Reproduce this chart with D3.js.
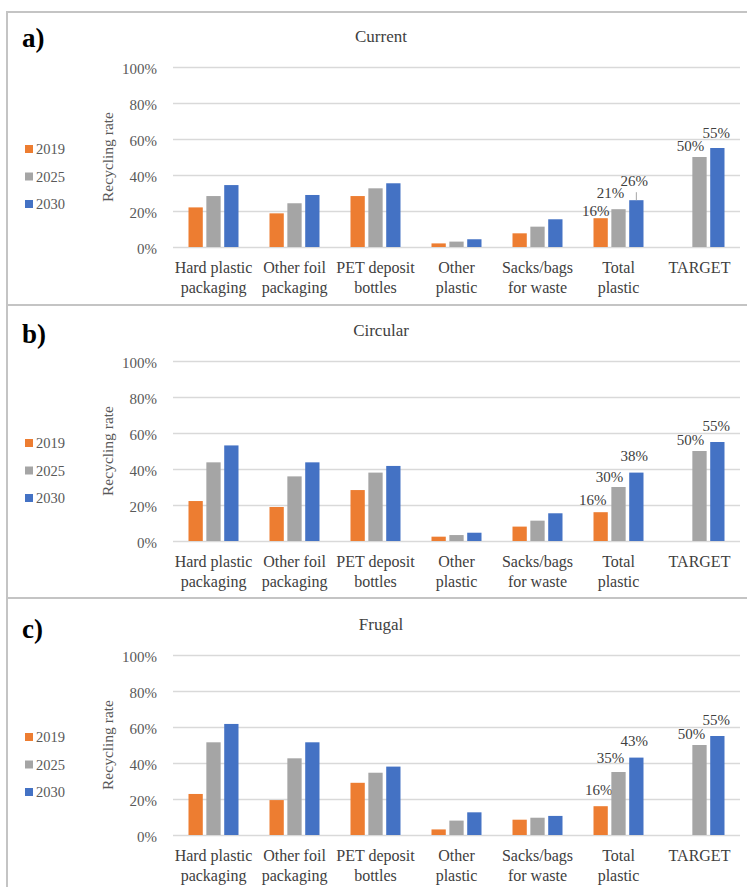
<!DOCTYPE html>
<html>
<head>
<meta charset="utf-8">
<script src="https://cdn.jsdelivr.net/npm/d3@7"></script>
<style>
  html, body { margin: 0; padding: 0; background: #fff; }
  svg { display: block; }
</style>
</head>
<body>
<svg id="chart" width="747" height="887"></svg>
<script>
// ---------------- data ----------------
const categories = ["Hard plastic|packaging", "Other foil|packaging", "PET deposit|bottles",
                    "Other|plastic", "Sacks/bags|for waste", "Total|plastic", "TARGET"];
const seriesNames = ["2019", "2025", "2030"];
const panelLetters = ["a)", "b)", "c)"];
const panelTitles = ["Current", "Circular", "Frugal"];
const yTicks = [0, 0.2, 0.4, 0.6, 0.8, 1.0];
const yLabel = "Recycling rate";

const current2019 = [22.0, 18.7, 28.3, 2.0, 7.6, 16, null];
const current2025 = [28.3, 24.3, 32.6, 3.0, 11.3, 21, 50];
const current2030 = [34.4, 28.9, 35.4, 4.3, 15.4, 26, 55];

const circular2019 = [22.2, 18.9, 28.3, 2.4, 8.0, 16, null];
const circular2025 = [43.7, 35.9, 38.0, 3.3, 11.3, 30, 50];
const circular2030 = [53.1, 43.7, 41.7, 4.6, 15.4, 38, 55];

const frugal2019 = [22.8, 19.4, 29.0, 3.1, 8.5, 16, null];
const frugal2025 = [51.5, 42.6, 34.6, 8.0, 9.6, 35, 50];
const frugal2030 = [61.7, 51.5, 38.0, 12.6, 10.6, 43, 55];

// categories whose bars carry data labels
const labelledCategories = ["Total|plastic", "TARGET"];

// ---------------- layout / style ----------------
const FONT = "'Liberation Serif', 'Times New Roman', Tinos, 'DejaVu Serif', serif";
const colors = ["#ED7D31", "#A5A5A5", "#4472C4"];
const panels = [
  [current2019, current2025, current2030],
  [circular2019, circular2025, circular2030],
  [frugal2019, frugal2025, frugal2030]
];
const panelOffsets = [0, 294, 588];
const borderOffsets = [12, 305, 598];
// label nudges (dx, dy of label centre from bar top-centre), per panel, keyed "cat-series"
const labelNudges = [
  { "5-0": [-5, -7], "5-1": [-8, -16], "5-2": [-2, -19], "6-1": [-9, -11], "6-2": [-1, -15] },
  { "5-0": [-8, -12], "5-1": [-9, -10], "5-2": [-2, -16.5], "6-1": [-9, -11], "6-2": [-1, -16] },
  { "5-0": [-2, -16], "5-1": [-8, -14], "5-2": [-2, -17], "6-1": [-8, -11], "6-2": [-1, -16] }
];

const svg = d3.select("#chart").style("font-family", FONT);
svg.append("rect").attr("width", 747).attr("height", 887).attr("fill", "#fff");

const plotLeft = 173, plotRight = 740;
const x0 = d3.scaleBand().domain(categories).range([plotLeft, plotRight]).padding(0);
const groupW = 50;
const x1 = d3.scaleBand().domain(seriesNames).range([0, groupW]).paddingInner(0.2).paddingOuter(0);

// panel borders
svg.append("line").attr("x1", 7).attr("x2", 7).attr("y1", 12).attr("y2", 887)
  .attr("stroke", "#c4c4c4").attr("stroke-width", 2);
borderOffsets.forEach(y => {
  svg.append("line").attr("x1", 6).attr("x2", 747).attr("y1", y).attr("y2", y)
    .attr("stroke", "#c4c4c4").attr("stroke-width", 2);
});

function txt(sel) { return sel.style("font-family", FONT); }

panels.forEach((series, pi) => {
  const off = panelOffsets[pi];
  const top = 67 + off, bottom = 247 + off;
  const y = d3.scaleLinear().domain([0, 1]).range([bottom, top]);
  const g = svg.append("g");

  // letter
  txt(g.append("text")).attr("x", 22).attr("y", 47 + off + (pi === 2 ? 3 : pi === 1 ? 2 : 0))
    .attr("font-size", 27).attr("font-weight", "bold").attr("fill", "#000")
    .text(panelLetters[pi]);

  // title
  txt(g.append("text")).attr("x", 381).attr("y", 42 + off)
    .attr("text-anchor", "middle").attr("font-size", 17).attr("fill", "#404040")
    .text(panelTitles[pi]);

  // grid + y axis
  const yAxis = d3.axisLeft(y).tickValues(yTicks).tickFormat(d3.format(".0%")).tickSize(-(plotRight - plotLeft)).tickPadding(16);
  const ya = g.append("g").attr("transform", `translate(${plotLeft},0)`).call(yAxis)
    .attr("font-family", null).attr("font-size", null);
  ya.select(".domain").remove();
  ya.selectAll(".tick line").attr("stroke", "#d9d9d9").attr("stroke-width", 1.3);
  txt(ya.selectAll(".tick text")).attr("font-size", 15).attr("fill", "#595959").attr("dy", "0.4em");

  // y label
  txt(g.append("text"))
    .attr("transform", `translate(113,${(top + bottom) / 2}) rotate(-90)`)
    .attr("text-anchor", "middle").attr("font-size", 15.5).attr("fill", "#595959")
    .text(yLabel);

  // x axis category labels
  const xa = g.append("g").attr("transform", `translate(0,${bottom})`)
    .call(d3.axisBottom(x0).tickSize(0).tickFormat(""))
    .attr("font-family", null).attr("font-size", null);
  xa.select(".domain").remove();
  xa.selectAll(".tick").each(function(d) {
    const t = txt(d3.select(this).append("text")).attr("text-anchor", "middle")
      .attr("font-size", 16).attr("fill", "#404040").attr("y", 26);
    d.split("|").forEach((line, li) => {
      t.append("tspan").attr("x", 0).attr("dy", li === 0 ? 0 : 19.5).text(line);
    });
  });

  // bars
  series.forEach((vals, si) => {
    const recs = categories.map((c, ci) => ({ c, ci, v: vals[ci] })).filter(d => d.v != null);
    g.selectAll(null).data(recs).enter().append("rect")
      .attr("x", d => x0(d.c) + (x0.bandwidth() - groupW) / 2 + x1(seriesNames[si]))
      .attr("width", x1.bandwidth())
      .attr("y", d => y(d.v / 100))
      .attr("height", d => bottom - y(d.v / 100))
      .attr("fill", colors[si]);

    // data labels
    recs.filter(d => labelledCategories.includes(d.c)).forEach(d => {
      const cx = x0(d.c) + (x0.bandwidth() - groupW) / 2 + x1(seriesNames[si]) + x1.bandwidth() / 2;
      const ty = y(d.v / 100);
      const nud = labelNudges[pi][`${d.ci}-${si}`] || [0, -10];
      txt(g.append("text")).attr("x", cx + nud[0]).attr("y", ty + nud[1])
        .attr("text-anchor", "middle").attr("dominant-baseline", "central")
        .attr("font-size", 15).attr("fill", "#404040")
        .text(Math.round(d.v) + "%");
      if (pi === 0 && d.ci === 5 && si === 2) {
        g.append("line").attr("x1", cx).attr("x2", cx).attr("y1", ty + nud[1] + 11).attr("y2", ty)
          .attr("stroke", "#a6a6a6").attr("stroke-width", 1);
      }
    });
  });

  // legend
  seriesNames.forEach((s, si) => {
    const ly = 149 + off + si * 27.5;
    g.append("rect").attr("x", 25).attr("y", ly - 4).attr("width", 8).attr("height", 8).attr("fill", colors[si]);
    txt(g.append("text")).attr("x", 36).attr("y", ly).attr("dominant-baseline", "central")
      .attr("font-size", 14.5).attr("fill", "#595959").text(s);
  });
});
</script>
</body>
</html>
